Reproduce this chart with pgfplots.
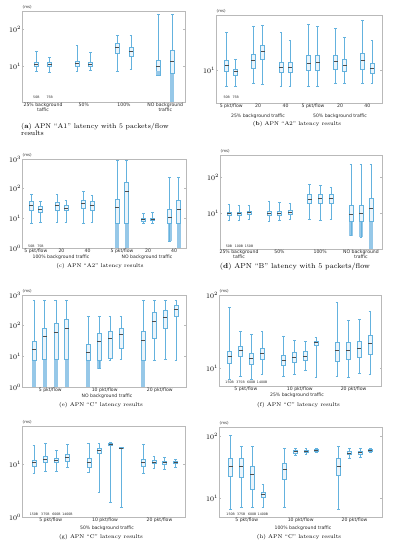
\documentclass[border=0pt]{standalone}
\usepackage{fontspec}
\usepackage{pgfplots}
\pgfplotsset{compat=1.18}
\newfontfamily\dv{DejaVu Sans}
\definecolor{boxblue}{RGB}{100,178,222}
\definecolor{boxfill}{RGB}{234,244,251}
\definecolor{flierblue}{RGB}{150,200,232}
\pgfplotsset{
  every axis/.append style={scale only axis, clip=false,
    axis line style={draw=gray!55, line width=0.4pt},
    major tick length=1.5pt, tick style={draw=gray!55, line width=0.4pt},
    yminorticks=false, xtick style={draw=none}, ytick={1,10,100,1000},
    yticklabel style={font=\fontsize{7.5}{8}\selectfont, inner sep=0.8pt},
    xticklabel style={font=\dv\fontsize{4.6}{5.2}\selectfont, align=center, inner sep=1pt, text=black!85}},
  wsk/.style={draw=boxblue, line width=0.55pt},
  bxs/.style={draw=boxblue, fill=boxfill, line width=0.55pt},
  mdn/.style={draw=black!70, line width=0.5pt},
  fls/.style={draw=none, fill=flierblue}
}
\def\bw{6}\def\cw{4}
% \bx{position}{lower whisker}{lower quartile}{median}{upper quartile}{upper whisker}
\newcommand{\bx}[6]{%
  \pgfmathsetmacro\bxXl{#1-\bw}\pgfmathsetmacro\bxXr{#1+\bw}%
  \pgfmathsetmacro\bxCl{#1-\cw}\pgfmathsetmacro\bxCr{#1+\cw}%
  \addplot[wsk] coordinates {(#1,#2) (#1,#3)};
  \addplot[wsk] coordinates {(#1,#5) (#1,#6)};
  \addplot[wsk] coordinates {(\bxCl,#2) (\bxCr,#2)};
  \addplot[wsk] coordinates {(\bxCl,#6) (\bxCr,#6)};
  \addplot[bxs] coordinates {(\bxXl,#3) (\bxXr,#3) (\bxXr,#5) (\bxXl,#5)} -- cycle;
  \addplot[mdn] coordinates {(\bxXl,#4) (\bxXr,#4)};
}
% \fl{position}{low}{high}: dense outlier band
\newcommand{\fl}[3]{%
  \pgfmathsetmacro\bxXl{#1-\bw}\pgfmathsetmacro\bxXr{#1+\bw}%
  \addplot[fls] coordinates {(\bxXl,#2) (\bxXr,#2) (\bxXr,#3) (\bxXl,#3)} -- cycle;
}
\newcommand{\ms}{\node[font=\dv\fontsize{4}{4.5}\selectfont, anchor=west, inner sep=0.5pt, text=black!80] at (rel axis cs:0,1) [yshift=3.5pt] {(ms)};}
\newcommand{\lb}[3]{\node[font=\dv\fontsize{3.2}{3.5}\selectfont, inner sep=0pt, text=black!85] at ({axis cs:#1,10}|-{rel axis cs:0,0}) [yshift=#2] {#3};}
\newcommand{\grp}[3]{\node[font=\dv\fontsize{4.6}{5.2}\selectfont, inner sep=0pt, text=black!85] at (#1pt,-#2pt) {#3};}
\begin{document}
\begin{tikzpicture}
\useasboundingbox (0,0) rectangle (394pt,-550pt);
% (a)
\begin{axis}[ymode=log, anchor=south west, at={(22pt,-102pt)}, width=163pt, height=91pt, xmin=67, xmax=555, ymin=1.02, ymax=327,
  xtick={130,252,372.5,496}, xticklabels={{25\% background\\taffic},{50\%},{100\%},{NO background\\traffic}}]
\bx{110}{7.1}{9.6}{11.1}{12.4}{24.7}
\bx{150}{6.9}{9.6}{11.1}{12.9}{17.9}
\bx{232}{7.2}{9.8}{11.6}{13.2}{38}
\bx{272}{7.7}{9.8}{11.4}{12.7}{24.2}
\bx{352}{7.2}{22.6}{32}{42.3}{72.4}
\bx{393}{7.9}{18.7}{25.2}{33.3}{68}
\bx{475}{5.7}{5.7}{10}{14.4}{263}
\fl{475}{5.7}{7.5}
\fl{517}{1.02}{6.5}
\bx{517}{6.5}{6.5}{13.2}{27.5}{263}
\ms \lb{110}{4.3pt}{50B}\lb{150}{4.3pt}{75B}
\end{axis}
% (b)
\begin{axis}[ymode=log, anchor=south west, at={(216pt,-103pt)}, width=166pt, height=88pt, xmin=58, xmax=555, ymin=5.3, ymax=29.7,
  xtick={103.5,184,266.5,348.5,429.5,511}, xticklabels={5 pkt/flow,20,40,5 pkt/flow,20,40}]
\bx{90}{7.3}{9.9}{11.1}{12.2}{21.2}
\bx{117}{7.3}{9.1}{9.9}{10.3}{12.4}
\bx{170}{7.8}{10.5}{12.2}{13.8}{24}
\bx{198}{7.7}{12.6}{14.5}{16.3}{24.5}
\bx{253}{7.3}{9.6}{10.7}{11.8}{21.2}
\bx{280}{7.3}{9.6}{10.7}{11.8}{18}
\bx{335}{7.3}{10}{11.6}{13.5}{24.8}
\bx{362}{7.3}{10}{11.8}{13.5}{24}
\bx{416}{7.8}{10.2}{12}{13.4}{23}
\bx{443}{7.8}{9.9}{11.2}{12.6}{19.3}
\bx{497}{7.8}{10.2}{12.2}{14.1}{26.6}
\bx{525}{7.8}{9.4}{10.5}{11.6}{18}
\ms \lb{90}{6pt}{50B}\lb{117}{6pt}{75B}
\end{axis}
% (c)
\begin{axis}[ymode=log, anchor=south west, at={(22pt,-248pt)}, width=164pt, height=89pt, xmin=67, xmax=557, ymin=1, ymax=1000,
  xtick={108.5,185,263,366,443.5,521.5}, xticklabels={5 pkt/flow,20,40,5 pkt/flow,20,40}]
\bx{95}{6.6}{19.4}{28.6}{37}{65}
\bx{122}{7.3}{15.8}{20.4}{25}{37}
\bx{172}{7.3}{19.4}{27}{35}{65}
\bx{198}{7.3}{18}{22}{27}{41}
\bx{250}{6.6}{22}{32.5}{42}{84}
\bx{276}{7.3}{18}{28.6}{39}{62}
\fl{352}{1}{6.9}
\bx{352}{6.9}{6.9}{23}{45}{880}
\fl{380}{1}{6.9}
\bx{380}{6.9}{6.9}{84}{165}{880}
\bx{430}{6.6}{7.9}{9}{10.2}{15}
\bx{457}{6.9}{8.3}{9.4}{10.4}{16}
\fl{508}{1.7}{6.9}
\bx{508}{1.7}{6.9}{10.7}{20.4}{243}
\fl{535}{1}{6.9}
\bx{535}{6.9}{6.9}{20.4}{40}{243}
\ms \lb{95}{2pt}{50B}\lb{122}{2pt}{75B}
\end{axis}
% (d)
\begin{axis}[ymode=log, anchor=south west, at={(220pt,-249pt)}, width=162pt, height=94pt, xmin=70, xmax=555, ymin=1.02, ymax=405,
  xtick={127,248,370,492}, xticklabels={{25\% background\\taffic},{50\%},{100\%},{NO background\\traffic}}]
\bx{97}{6.4}{9}{10}{10.9}{17.9}
\bx{127}{6.4}{8.8}{10}{10.9}{16.8}
\bx{157}{6.7}{9.4}{10.7}{11.6}{16}
\bx{217}{6.1}{8.6}{10.2}{11.6}{20.8}
\bx{248}{6.4}{9}{10.2}{11.6}{19.9}
\bx{280}{6.7}{9.4}{10.9}{12.1}{19}
\bx{338}{6.7}{18.7}{24.7}{34}{61}
\bx{370}{6.4}{18.7}{26.3}{34}{58}
\bx{402}{6.7}{18.7}{26.3}{34}{52.5}
\fl{462}{2.4}{6.1}
\bx{462}{2.4}{6.1}{9.6}{16}{226}
\fl{492}{2.2}{6.1}
\bx{492}{2.2}{6.1}{10}{16}{226}
\fl{522}{1.02}{6.1}
\bx{522}{6.1}{6.1}{13.8}{25.8}{226}
\ms \lb{97}{2.8pt}{50B}\lb{127}{2.8pt}{100B}\lb{157}{2.8pt}{150B}
\end{axis}
% (e)
\begin{axis}[ymode=log, anchor=south west, at={(22pt,-387pt)}, width=164pt, height=92pt, xmin=67, xmax=557, ymin=1, ymax=1000,
  xtick={151.5,314,478.5}, xticklabels={5 pkt/flow,10 pkt/flow,20 pkt/flow}]
\fl{103}{1}{7.5}
\bx{103}{7.5}{7.5}{16.6}{31}{651}
\fl{135}{1}{7.8}
\bx{135}{7.8}{7.8}{45}{85}{651}
\fl{168}{1}{8}
\bx{168}{8}{8}{60}{118}{651}
\fl{200}{1}{8}
\bx{200}{8}{8}{81}{164}{651}
\fl{265}{1}{7.5}
\bx{265}{7.5}{7.5}{13.3}{25}{210}
\fl{298}{4}{7.5}
\bx{298}{4}{7.5}{30}{58}{210}
\bx{330}{7.5}{8.9}{38}{68}{210}
\bx{363}{7.8}{18.9}{51.5}{85}{210}
\fl{430}{1}{7.5}
\bx{430}{7.5}{7.5}{33.6}{68}{651}
\bx{462}{7.5}{38}{144}{264}{651}
\bx{495}{8}{81}{195}{322}{651}
\bx{527}{7.5}{210}{339}{447}{651}
\ms
\end{axis}
% (f)
\begin{axis}[ymode=log, anchor=south west, at={(219pt,-386pt)}, width=162pt, height=91pt, xmin=65, xmax=553, ymin=5.74, ymax=100,
  xtick={146,308.5,470.5}, xticklabels={5 pkt/flow,10 pkt/flow,20 pkt/flow}]
\bx{97}{7.2}{11.9}{14.4}{17.2}{68}
\bx{130}{7.9}{14.7}{17.8}{20.2}{31.6}
\bx{162}{7.2}{11.5}{13.7}{16}{29.4}
\bx{195}{8.3}{13.4}{16}{18.7}{31.6}
\bx{260}{7.7}{10.9}{13}{15.2}{27.6}
\bx{292}{8.3}{12.1}{14.1}{16.5}{23.8}
\bx{325}{9.5}{12.7}{14.7}{16.9}{23.1}
\bx{357}{7.5}{20.8}{22.6}{23.6}{26.5}
\bx{420}{7.7}{12.6}{17.8}{22.6}{78.5}
\bx{455}{7.5}{13.4}{17.8}{22.4}{45.6}
\bx{488}{8.6}{14}{18.7}{23.6}{46.5}
\bx{520}{8.3}{15.7}{21.9}{28.5}{60.5}
\ms \lb{97}{3.3pt}{150B}\lb{130}{3.3pt}{375B}\lb{162}{3.3pt}{600B}\lb{195}{3.3pt}{1400B}
\end{axis}
% (g)
\begin{axis}[ymode=log, anchor=south west, at={(22pt,-517pt)}, width=163pt, height=91pt, xmin=67, xmax=555, ymin=1, ymax=54,
  xtick={153,315.5,478.5}, xticklabels={5 pkt/flow,10 pkt/flow,20 pkt/flow}]
\bx{103}{6.7}{9.3}{10.8}{12.1}{23.4}
\bx{137}{7.5}{10.8}{12.6}{14.6}{25.2}
\bx{170}{7.5}{10.8}{11.9}{13.4}{18.5}
\bx{203}{8.8}{11.6}{13.6}{15.5}{24.1}
\bx{267}{7.2}{9}{11.2}{13}{25.2}
\bx{298}{2.9}{16.2}{18.8}{20.2}{25.2}
\bx{332}{1.94}{23.4}{24.5}{25.2}{26}
\bx{364}{1.5}{20.5}{20.8}{21.1}{21.3}
\bx{430}{6.7}{9.4}{11.1}{12.5}{24.1}
\bx{462}{8.4}{10.4}{11.2}{12.1}{14.6}
\bx{494}{8.1}{10.1}{11.1}{11.7}{14}
\bx{527}{9}{10.4}{11.1}{11.6}{12.5}
\ms \lb{103}{2.4pt}{150B}\lb{137}{2.4pt}{375B}\lb{170}{2.4pt}{600B}\lb{203}{2.4pt}{1400B}
\end{axis}
% (h)
\begin{axis}[ymode=log, anchor=south west, at={(219pt,-517pt)}, width=163pt, height=90pt, xmin=65, xmax=555, ymin=5.1, ymax=139,
  xtick={148.5,310.5,472.5}, xticklabels={5 pkt/flow,10 pkt/flow,20 pkt/flow}]
\bx{100}{6.7}{22.7}{32.8}{43.5}{102}
\bx{132}{7.4}{22.2}{32.8}{44.6}{69}
\bx{165}{7.4}{14.1}{24.2}{33.2}{68.4}
\bx{197}{7.4}{10.6}{11.7}{12.8}{16.9}
\bx{262}{7.4}{20.1}{29}{36.2}{62.7}
\bx{295}{49.1}{53.5}{56.9}{59}{62.7}
\bx{327}{51}{55.6}{57.6}{59.7}{62.7}
\bx{358}{55.6}{58}{59.7}{61.2}{62.7}
\bx{425}{6.9}{23.6}{32.8}{43.5}{69}
\bx{457}{43.5}{50.3}{53.5}{56.9}{62.7}
\bx{490}{45.1}{51.5}{54.8}{57.6}{62.7}
\bx{520}{54}{57.6}{59.7}{61.2}{62.7}
\ms \lb{100}{2.4pt}{150B}\lb{132}{2.4pt}{375B}\lb{165}{2.4pt}{600B}\lb{197}{2.4pt}{1400B}
\end{axis}
% group labels
\grp{258}{116}{25\% background traffic}
\grp{340}{116}{50\% background traffic}
\grp{61}{257.3}{100\% background traffic}
\grp{147}{257.3}{NO background traffic}
\grp{107}{396.7}{NO background traffic}
\grp{297}{395}{25\% background traffic}
\grp{107}{528.3}{50\% background traffic}
\grp{303}{528.3}{100\% background traffic}
% captions
\node[anchor=west, inner sep=0pt, font=\fontsize{6.9}{7.6}\selectfont] at (21pt,-126.7pt) {(\textbf{a}) APN “A1” latency with 5 packets/flow};
\node[anchor=west, inner sep=0pt, font=\fontsize{6.9}{7.6}\selectfont] at (21pt,-133.5pt) {results};
\node[inner sep=0pt, font=\fontsize{5.5}{6}\selectfont] at (297pt,-124pt) {(\textbf{b}) APN “A2” latency results};
\node[inner sep=0pt, font=\fontsize{5.5}{6}\selectfont] at (100pt,-266pt) {(c) APN “A2” latency results};
\node[inner sep=0pt, font=\fontsize{7.2}{8}\selectfont] at (295pt,-266.5pt) {(\textbf{d}) APN “B” latency with 5 packets/flow};
\node[inner sep=0pt, font=\fontsize{5.5}{6}\selectfont] at (101pt,-405pt) {(e) APN “C” latency results};
\node[inner sep=0pt, font=\fontsize{5.5}{6}\selectfont] at (298.5pt,-405pt) {(f) APN “C” latency results};
\node[inner sep=0pt, font=\fontsize{5.5}{6}\selectfont] at (101pt,-536.7pt) {(g) APN “C” latency results};
\node[inner sep=0pt, font=\fontsize{5.5}{6}\selectfont] at (299pt,-536.7pt) {(h) APN “C” latency results};
\end{tikzpicture}
\end{document}
